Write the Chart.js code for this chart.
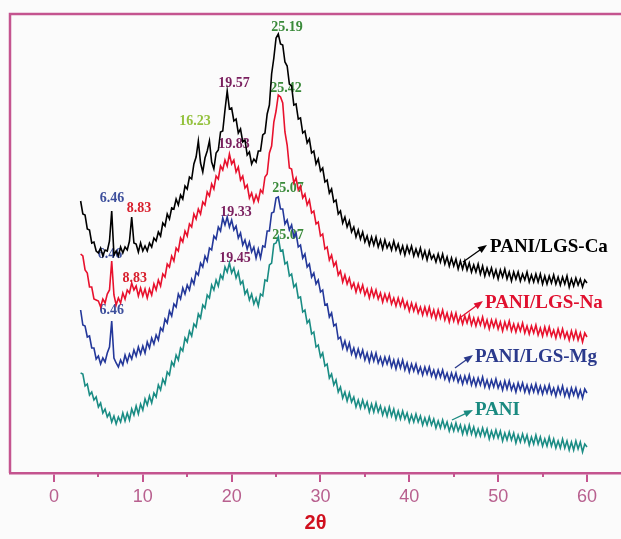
<!DOCTYPE html>
<html>
<head>
<meta charset="utf-8">
<script src="https://cdn.jsdelivr.net/npm/chart.js@4/dist/chart.umd.min.js"></script>
<style>
html,body{margin:0;padding:0;background:#fbfbfb;}
canvas{display:block;}
</style>
</head>
<body>
<canvas id="c" width="621" height="539"></canvas>
<script>
// 2θ grid: 3° to 60° in 0.25° steps (229 points)
const thetaStart = 3, thetaStep = 0.25, thetaCount = 229;
const theta = [];
for (let i = 0; i < thetaCount; i++) theta.push(thetaStart + thetaStep * i);

const xTicks = [0, 10, 20, 30, 40, 50, 60];
const xMinorTicks = [5, 15, 25, 35, 45, 55];

const seriesNames = ['PANI/LGS-Ca', 'PANI/LGS-Na', 'PANI/LGS-Mg', 'PANI'];

const pani_lgs_ca = [
272,259,258,244,243,230,231,222,
220,225,217,223,222,232,262,218,
222,217,226,220,226,223,232,256,
230,229,221,230,222,227,222,230,
226,235,232,241,237,250,247,259,
254,265,264,274,268,278,274,287,
284,296,294,309,316,332,310,301,
315,322,332,311,304,320,323,341,
342,363,382,364,365,352,354,340,
344,331,333,318,321,309,314,311,
322,322,338,340,359,368,399,415,
435,439,429,428,411,407,389,387,
368,369,354,355,340,342,330,334,
320,322,309,314,302,305,291,293,
280,284,271,273,259,262,250,256,
246,252,241,246,236,243,234,241,
231,237,228,236,228,236,226,233,
224,233,225,230,223,232,223,229,
220,227,218,227,220,227,217,224,
217,225,215,222,213,222,214,218,
211,219,211,219,209,216,207,215,
207,214,204,212,204,212,203,210,
201,208,201,209,199,207,197,205,
198,205,196,203,194,203,196,204,
194,201,192,201,194,201,192,199,
193,201,191,198,191,199,191,199,
189,197,189,197,190,198,189,196,
188,196,189,197,186,194,187,195,
188,194,186,193,190];

const pani_lgs_na = [
219,217,203,200,186,186,174,173,
172,166,174,170,179,183,212,178,
168,175,170,180,174,183,180,190,
183,187,177,185,177,184,175,184,
178,189,183,193,187,199,196,209,
206,217,212,225,222,235,231,242,
237,249,246,259,254,264,259,271,
268,281,277,289,284,297,294,307,
303,313,307,319,309,313,301,306,
293,297,285,288,275,280,271,278,
272,283,280,296,299,320,327,351,
362,378,376,370,341,328,305,304,
290,295,283,287,275,279,268,273,
260,262,249,251,237,239,224,226,
213,218,207,211,198,202,191,198,
189,195,185,190,181,189,181,188,
178,184,175,184,176,183,174,180,
171,179,172,179,169,175,167,175,
167,174,165,171,162,170,162,169,
160,166,158,166,158,166,156,163,
154,163,155,163,153,160,151,160,
152,160,150,157,149,157,150,158,
148,155,147,155,148,156,146,153,
144,153,146,153,144,151,142,151,
144,152,142,149,141,149,142,150,
140,147,139,147,140,148,138,145,
137,146,138,146,137,143,135,144,
136,144,135,141,133,142,134,142,
133,140,131,140,136];

const pani_lgs_mg = [
163,148,147,136,137,125,125,114,
117,109,115,111,120,126,152,115,
110,106,113,108,118,111,119,114,
123,117,126,119,127,120,131,125,
135,129,138,133,145,142,154,150,
162,157,169,166,179,174,185,179,
188,183,194,189,201,198,210,206,
217,212,225,223,237,234,246,242,
255,248,256,246,253,243,247,235,
240,228,233,224,231,221,226,215,
224,215,227,226,242,242,260,261,
275,276,264,264,249,253,243,248,
236,240,226,228,215,219,206,209,
196,200,189,193,181,183,168,169,
156,160,147,149,134,136,125,132,
123,130,119,125,116,124,116,123,
113,120,111,120,112,120,110,116,
108,116,109,116,106,113,104,113,
105,113,103,110,101,109,102,109,
100,106,98,106,99,106,97,103,
95,103,96,103,94,100,92,100,
93,100,91,97,89,97,90,98,
88,95,87,95,88,96,86,93,
85,93,86,94,85,91,83,92,
84,92,83,89,81,90,83,90,
81,88,80,88,81,89,80,87,
79,87,80,88,79,85,77,86,
79,87,77,84,76,85,78,85,
76,83,75,84,80];

const pani = [
100,99,87,89,78,81,73,76,
66,70,60,64,56,60,51,57,
49,56,51,60,52,60,53,64,
58,67,59,69,63,74,68,77,
70,80,76,88,83,94,89,101,
98,111,107,118,113,125,122,135,
131,142,137,149,146,159,155,168,
165,178,175,188,183,193,187,198,
194,206,201,210,200,205,195,201,
189,192,179,183,173,179,169,175,
167,179,177,193,192,208,210,229,
230,236,222,223,209,211,197,199,
186,189,175,176,161,163,150,153,
139,141,126,128,116,120,107,109,
95,99,88,93,81,86,75,81,
72,80,71,76,66,73,65,73,
65,71,61,69,61,70,61,67,
58,65,57,66,57,64,54,62,
54,62,54,60,51,58,51,59,
51,57,48,55,48,56,48,54,
45,52,45,53,45,51,42,49,
42,50,42,48,39,47,39,48,
39,46,37,44,37,45,37,44,
34,42,35,43,35,42,32,40,
33,41,33,40,30,38,31,39,
31,38,28,36,29,38,29,36,
27,34,27,36,27,34,25,32,
25,34,25,32,23,31,23,32,
24,31,21,29,26];

// peak annotations: text, 2θ, intensity position, colour
const peakText  = ['6.46','8.83','6.46','8.83','6.46','16.23','19.57','25.19','25.42','19.83','25.07','19.33','25.07','19.45'];
const peakTheta = [6.53, 9.57, 6.30, 9.08, 6.50, 15.87, 20.26, 26.23, 26.12, 20.26, 26.34, 20.49, 26.34, 20.38];
const peakH     = [275, 265, 219, 195, 163, 352, 390, 446, 385, 329, 285, 261, 238, 215];
const peakColor = ['#3d4f9c','#d8202e','#3d4f9c','#d8202e','#3d4f9c','#93c13c','#7a1f5e','#3a8a3a','#3a8a3a','#7a1f5e','#3a8a3a','#7a1f5e','#3a8a3a','#7a1f5e'];

// series labels with arrows (positions in data units)
const labelTheta = [49.08, 48.52, 47.39, 47.39];
const labelH     = [221, 165, 111, 58];
const arrowFromTheta = [46.04, 45.82, 45.14, 44.80];
const arrowFromH     = [211, 156, 105, 53];
const arrowToTheta   = [48.74, 48.29, 47.17, 47.17];
const arrowToH       = [228, 172, 118, 63];

const lineColors = ['#000000', '#e8112d', '#24389a', '#1a8c84'];
const labelColors = ['#000000', '#e0102f', '#2b3a8c', '#1a8a80'];
const frameColor = '#c4548f';

const allSeries = [pani_lgs_ca, pani_lgs_na, pani_lgs_mg, pani];

const datasets = allSeries.map((vals, k) => ({
  label: seriesNames[k],
  data: vals.map((v, i) => ({x: theta[i], y: v})),
  borderColor: lineColors[k],
  borderWidth: 1.6,
  pointRadius: 0,
  tension: 0,
  fill: false
}));

const deco = {
  id: 'deco',
  beforeDatasetsDraw(chart) {
    const {ctx, scales: {x, y}} = chart;
    ctx.save();
    ctx.textAlign = 'center';
    ctx.textBaseline = 'middle';
    ctx.font = 'bold 14px "Liberation Serif"';
    peakText.forEach((t, i) => {
      ctx.fillStyle = peakColor[i];
      ctx.fillText(t, x.getPixelForValue(peakTheta[i]), y.getPixelForValue(peakH[i]));
    });
    ctx.restore();
  },
  afterDraw(chart) {
    const {ctx, chartArea: a, scales: {x, y}} = chart;
    ctx.save();
    // frame: left and top lines
    ctx.strokeStyle = frameColor;
    ctx.lineWidth = 2.5;
    ctx.beginPath();
    ctx.moveTo(a.left, a.bottom);
    ctx.lineTo(a.left, a.top);
    ctx.lineTo(a.right, a.top);
    ctx.stroke();
    // minor ticks
    ctx.lineWidth = 2;
    xMinorTicks.forEach(v => {
      const px = Math.round(x.getPixelForValue(v));
      ctx.beginPath();
      ctx.moveTo(px, a.bottom);
      ctx.lineTo(px, a.bottom + 4);
      ctx.stroke();
    });
    // series labels and arrows
    ctx.font = 'bold 19px "Liberation Serif"';
    ctx.textAlign = 'left';
    ctx.textBaseline = 'alphabetic';
    seriesNames.forEach((n, k) => {
      ctx.fillStyle = labelColors[k];
      ctx.fillText(n, x.getPixelForValue(labelTheta[k]), y.getPixelForValue(labelH[k]));
      const x1 = x.getPixelForValue(arrowFromTheta[k]), y1 = y.getPixelForValue(arrowFromH[k]);
      const x2 = x.getPixelForValue(arrowToTheta[k]), y2 = y.getPixelForValue(arrowToH[k]);
      const ang = Math.atan2(y2 - y1, x2 - x1);
      ctx.strokeStyle = labelColors[k];
      ctx.lineWidth = 1.3;
      ctx.beginPath();
      ctx.moveTo(x1, y1);
      ctx.lineTo(x2 - 6 * Math.cos(ang), y2 - 6 * Math.sin(ang));
      ctx.stroke();
      ctx.beginPath();
      ctx.moveTo(x2, y2);
      ctx.lineTo(x2 - 9 * Math.cos(ang) + 3.5 * Math.sin(ang), y2 - 9 * Math.sin(ang) - 3.5 * Math.cos(ang));
      ctx.lineTo(x2 - 9 * Math.cos(ang) - 3.5 * Math.sin(ang), y2 - 9 * Math.sin(ang) + 3.5 * Math.cos(ang));
      ctx.closePath();
      ctx.fill();
    });
    ctx.restore();
  }
};

new Chart(document.getElementById('c'), {
  type: 'line',
  data: {datasets},
  plugins: [deco],
  options: {
    responsive: false,
    animation: false,
    devicePixelRatio: 1,
    layout: {padding: {left: 10, top: 14, right: 0, bottom: 0}},
    plugins: {legend: {display: false}, tooltip: {enabled: false}},
    scales: {
      x: {
        type: 'linear',
        min: -4.95,
        max: 63.83,
        afterFit: s => { s.height = 66; },
        afterBuildTicks: s => { s.ticks = xTicks.map(v => ({value: v})); },
        grid: {display: true, drawOnChartArea: false, drawTicks: true, tickLength: 9, color: frameColor, lineWidth: 2},
        border: {display: true, color: frameColor, width: 2.5},
        ticks: {
          color: '#b8608f',
          font: {family: '"Liberation Sans"', size: 18},
          padding: 4,
          maxRotation: 0
        },
        title: {
          display: true,
          text: '2θ',
          color: '#d0101e',
          font: {family: '"Liberation Sans"', size: 20, weight: 'bold'},
          padding: {top: 0, bottom: 4}
        }
      },
      y: {
        display: false,
        min: 0,
        max: 459
      }
    }
  }
});
</script>
</body>
</html>
